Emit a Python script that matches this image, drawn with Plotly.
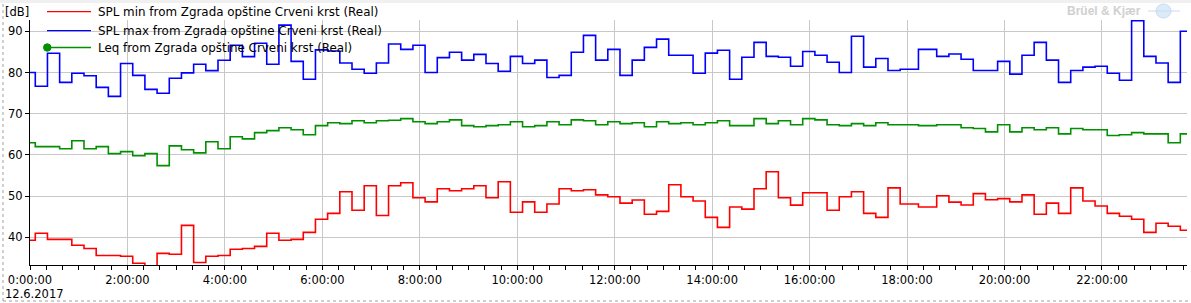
import pandas as pd
import plotly.graph_objects as go

# ---- data ----
date_label = "12.6.2017"
day = pd.Timestamp("2017-06-12")

# interval start times (minutes after midnight): first partial interval at 0:00,
# then a 15-minute grid from 0:06:30, with one irregular interval at 18:14
start_minutes = ([0.0] + [6.5 + 15 * (k - 1) for k in range(1, 73)] + [1094.0]
                 + [6.5 + 15 * (k - 1) for k in range(75, 96)])
end_minute = 6.5 + 15 * 95

spl_max = [80.0, 76.65, 84.66, 77.6, 79.8, 79.2, 76.4, 74.2, 82.2, 79.3,
           75.9, 74.95, 78.6, 79.9, 82.0, 80.45, 82.96, 86.6, 83.85, 87.1,
           82.0, 91.5, 82.7, 78.35, 85.5, 85.2, 82.3, 80.8, 79.8, 82.3,
           86.9, 85.6, 86.6, 80.0, 83.6, 84.9, 83.0, 84.4, 82.2, 80.3,
           83.9, 82.2, 83.0, 78.8, 79.3, 84.9, 89.0, 83.0, 85.6, 79.3,
           83.0, 86.1, 88.1, 84.2, 84.2, 79.8, 84.7, 85.4, 78.35, 83.7,
           87.3, 83.9, 83.7, 81.5, 85.1, 84.2, 82.5, 80.0, 88.8, 81.3,
           83.4, 80.5, 80.8, 85.6,
           83.9, 84.5, 83.2, 80.5, 80.5, 82.7, 79.6, 84.2, 87.3, 83.0,
           77.6, 80.5, 81.3, 81.5, 79.8, 78.1, 92.6, 83.9, 82.3, 77.6, 90.0]

spl_min = [39.27, 40.97, 39.5, 39.5, 38.06, 37.3, 35.6, 35.6, 35.4, 33.7,
           32.5, 36.1, 35.9, 42.9, 33.9, 35.4, 35.6, 37.1, 37.3, 37.8,
           40.97, 39.27, 39.5, 41.2, 44.4, 45.8, 51.07, 46.55, 52.5, 45.3,
           52.5, 53.25, 49.6, 48.6, 51.8, 51.3, 51.8, 52.5, 49.6, 53.5,
           46.07, 48.6, 46.07, 48.1, 51.8, 51.3, 51.55, 50.3, 49.85, 48.3,
           49.05, 45.6, 46.3, 52.77, 49.85, 48.8, 44.85, 42.4, 47.35, 46.85,
           51.8, 55.9, 49.6, 47.8, 50.8, 50.8, 46.55, 49.85, 51.07, 45.8,
           44.85, 52.0, 48.1, 47.35,
           50.1, 48.55, 47.85, 50.6, 49.1, 49.4, 48.6, 50.3, 45.6, 48.3,
           45.8, 52.0, 48.8, 47.6, 45.8, 45.1, 44.4, 41.2, 43.4, 42.7, 41.7]

leq = [62.96, 62.0, 62.0, 61.5, 63.45, 61.5, 62.0, 60.3, 60.8, 59.8,
       60.3, 57.4, 62.2, 61.26, 60.5, 63.2, 61.5, 64.4, 63.9, 65.4,
       65.9, 66.6, 66.1, 64.9, 67.1, 67.8, 67.6, 68.3, 67.8, 68.3,
       68.4, 68.8, 68.06, 67.6, 68.06, 68.5, 67.1, 66.85, 67.1, 67.3,
       68.06, 66.85, 67.1, 68.06, 67.3, 68.5, 68.3, 67.3, 68.06, 67.6,
       67.8, 66.85, 68.06, 67.6, 67.8, 67.3, 67.8, 68.3, 67.1, 67.1,
       68.8, 67.6, 68.3, 67.3, 68.8, 68.5, 67.3, 67.1, 67.6, 67.1,
       67.8, 67.3, 67.3, 67.1,
       67.3, 67.3, 66.6, 66.4, 65.6, 67.3, 65.6, 66.6, 66.1, 66.6,
       65.1, 66.4, 66.1, 66.1, 64.7, 64.9, 65.4, 65.1, 65.1, 62.96, 65.1]

series_names = ["SPL min from Zgrada opštine Crveni krst (Real)",
                "SPL max from Zgrada opštine Crveni krst (Real)",
                "Leq from Zgrada opštine Crveni krst (Real)"]
series_colors = ["#ff0000", "#0000ff", "#009000"]

y_ticks = [40, 50, 60, 70, 80, 90]
y_unit = "[dB]"
brand = "Brüel & Kjær"

# ---- build ----
W, H = 1191, 303
ML, MR, MT, MB = 30, 4, 20, 38
PW, PH = W - ML - MR, H - MT - MB

def px(x):
    return (x - ML) / PW

def py(y):
    return (H - MB - y) / PH

times = [day + pd.Timedelta(minutes=m) for m in start_minutes] + [day + pd.Timedelta(minutes=end_minute)]

def ext(vals):
    return list(vals) + [vals[-1]]

FONT = "DejaVu Sans"
FS = 11.5
LFS = 11.9
LW = 1.6
fig = go.Figure()
for vals, name, col in zip([spl_min, spl_max, leq], series_names, series_colors):
    fig.add_trace(go.Scatter(x=times, y=ext(vals), mode="lines", line_shape="hv",
                             line=dict(color=col, width=LW), name=name, showlegend=False,
                             hoverinfo="skip"))

x_end = day + pd.Timedelta(hours=23.745)
fig.update_layout(
    width=W, height=H,
    margin=dict(l=ML, r=MR, t=MT, b=MB, autoexpand=False),
    paper_bgcolor="white", plot_bgcolor="white",
    font=dict(family=FONT, size=FS, color="#000000"),
    showlegend=False,
    xaxis=dict(type="date", range=[day, x_end], dtick=2 * 3600 * 1000,
               tick0=day, tickformat="%-H:%M:%S", showgrid=True,
               gridcolor="#c8c8c8", gridwidth=1, showline=True, linecolor="#000000",
               linewidth=1, ticks="outside", ticklen=4, tickcolor="#000000",
               minor=dict(dtick=20 * 60 * 1000, ticks="outside", ticklen=4,
                          tickcolor="#000000", showgrid=False),
               zeroline=False, automargin=False, tickfont=dict(size=FS)),
    yaxis=dict(range=[33.28, 92.74], tickvals=y_ticks, showgrid=True,
               gridcolor="#c8c8c8", gridwidth=1, showline=True, linecolor="#000000",
               linewidth=1, ticks="outside", ticklen=4, tickcolor="#000000",
               zeroline=False, automargin=False, tickfont=dict(size=FS)),
)

# frame decorations
fig.add_shape(type="rect", xref="paper", yref="paper", x0=px(-5), x1=px(W + 5), y0=py(3), y1=py(-5),
              line=dict(width=0), fillcolor="#f0f0f0", layer="below")
fig.add_shape(type="line", xref="paper", yref="paper", x0=px(3), x1=px(3), y0=py(301), y1=py(3),
              line=dict(color="#a0a0a0", width=1, dash="dot"))
fig.add_shape(type="line", xref="paper", yref="paper", x0=px(3), x1=px(W), y0=py(301), y1=py(301),
              line=dict(color="#a0a0a0", width=1, dash="dot"))

# unit and date labels
fig.add_annotation(text=y_unit, xref="paper", yref="paper", x=px(3), y=py(12),
                   xanchor="left", yanchor="middle", showarrow=False, font=dict(size=FS))
fig.add_annotation(text=date_label, xref="paper", yref="paper", x=px(3), y=py(294),
                   xanchor="left", yanchor="middle", showarrow=False, font=dict(size=FS))

# brand mark
fig.add_annotation(text="<b>" + brand + "</b>", xref="paper", yref="paper", x=px(1143), y=py(11),
                   xanchor="right", yanchor="middle", showarrow=False,
                   font=dict(family="Liberation Sans", size=12, color="#d0d0d0"))
fig.add_shape(type="circle", xref="paper", yref="paper", x0=px(1156), x1=px(1171),
              y0=py(18), y1=py(4), line=dict(color="#c6dcf2", width=1), fillcolor="#dcebf8")
fig.add_shape(type="line", xref="paper", yref="paper", x0=px(1148), x1=px(1180),
              y0=py(11), y1=py(11), line=dict(color="#c6dcf2", width=1))

# legend (drawn inside the chart, overlapping the plot as in the original)
legend_rows = [11.7, 30.7, 47.5]
for name, col, ry in zip(series_names, series_colors, legend_rows):
    fig.add_shape(type="line", xref="paper", yref="paper", x0=px(47), x1=px(91),
                  y0=py(ry), y1=py(ry), line=dict(color=col, width=1.3))
    fig.add_annotation(text=name, xref="paper", yref="paper", x=px(96), y=py(ry),
                       xanchor="left", yanchor="middle", showarrow=False,
                       font=dict(size=LFS, color="#000000"))
fig.add_shape(type="circle", xref="paper", yref="paper", x0=px(43.5), x1=px(51),
              y0=py(51.2), y1=py(43.8), line=dict(color=series_colors[2], width=1),
              fillcolor=series_colors[2])

fig.write_html("out.html", config={"displayModeBar": False},
               post_script="document.body.style.margin='0';document.body.style.overflow='hidden';")
